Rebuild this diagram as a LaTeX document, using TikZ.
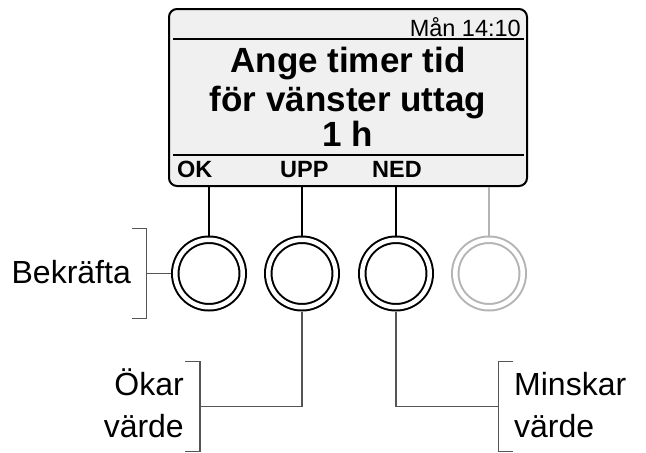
\documentclass[tikz,border=0pt]{standalone}
\usepackage{fontspec}
\setmainfont{Liberation Sans}
\usetikzlibrary{positioning,calc}
\definecolor{skarmgra}{HTML}{F0F0F0}
\definecolor{ramgra}{HTML}{555555}
\definecolor{ljusgra}{HTML}{B4B4B4}
\tikzset{
  knapp/.style = {circle, draw, double=white, double distance=4.5pt, line width=2pt,
    minimum size=67.5pt, inner sep=0pt, outer sep=4.25pt},
  stift/.style = {line width=2pt},
  klammer/.style = {draw=ramgra, line width=1.3pt},
  etikett/.style = {font=\fontsize{32}{38}\selectfont, inner sep=0pt},
  knapptext/.style = {font=\bfseries\fontsize{23.5}{28}\selectfont, inner sep=0pt, anchor=base west},
  rubrik/.style = {font=\bfseries\fontsize{35}{41}\selectfont, inner sep=0pt, anchor=base}
}
\newcommand{\knappy}{273.5}
\newcommand{\klamh}{45}
\newcommand{\klamb}{15}

\begin{document}
\begin{tikzpicture}[x=1pt,y=-1pt]
  \useasboundingbox (0,0) rectangle (646,453);
  % display
  \node[draw, line width=2pt, fill=skarmgra, rounded corners=8pt, minimum width=358pt,
    minimum height=177pt, inner sep=0pt] (skarm) at (348,97.5) {};
  \draw[stift] (173,39) -- (524,39);
  \draw[stift] (173,155) -- (524,155);
  \node[anchor=base east, font=\fontsize{23.5}{28}\selectfont, inner sep=0pt] (tid) at (521,36) {Mån 14:10};
  \node[rubrik] (rad1) at (348,72.7) {Ange timer tid};
  \node[rubrik] (rad2) at (348,111.7) {för vänster uttag};
  \node[rubrik] (rad3) at (348,146.7) {1 h};
  \node[knapptext] (ok) at (177,177) {OK};
  \node[knapptext] (upp) at (280,177) {UPP};
  \node[knapptext] (ned) at (372,177) {NED};
  % buttons
  \foreach \n/\x in {1/209,2/302,3/396}
    \node[knapp] (b\n) at (\x,\knappy) {};
  \node[knapp, draw=ljusgra] (b4) at (489,\knappy) {};
  \foreach \n in {1,2,3}
    \draw[stift] (skarm.south -| b\n) -- (b\n.north);
  \draw[stift, ljusgra] (skarm.south -| b4) -- (b4.north);
  % labels
  \coordinate (kb) at (146.7,\knappy);
  \coordinate (ko) at (200,406.7);
  \coordinate (km) at (498.3,406.7);
  \draw[klammer] (kb) -- (b1.west);
  \draw[klammer] ($(kb)+(-\klamb,-\klamh)$) -- ++(\klamb,0) -- ++(0,2*\klamh) -- ++(-\klamb,0);
  \draw[klammer] (b2.south) |- (ko);
  \draw[klammer] ($(ko)+(-\klamb,-\klamh)$) -- ++(\klamb,0) -- ++(0,2*\klamh) -- ++(-\klamb,0);
  \draw[klammer] (b3.south) |- (km);
  \draw[klammer] ($(km)+(\klamb,-\klamh)$) -- ++(-\klamb,0) -- ++(0,2*\klamh) -- ++(\klamb,0);
  \node[etikett, anchor=base east] (bekr) at (131,283.3) {Bekräfta};
  \node[etikett, anchor=base east] (okar1) at (184,395) {Ökar};
  \node[etikett, anchor=base east] (okar2) at (184,437) {värde};
  \node[etikett, anchor=base west] (mins1) at (514,395) {Minskar};
  \node[etikett, anchor=base west] (mins2) at (514,437) {värde};
\end{tikzpicture}
\end{document}
